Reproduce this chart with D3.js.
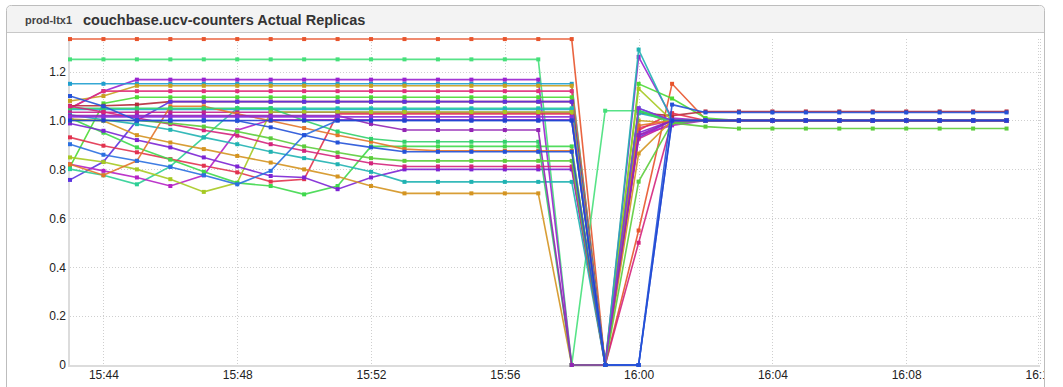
<!DOCTYPE html>
<html>
<head>
<meta charset="utf-8">
<script src="https://cdn.jsdelivr.net/npm/d3@7"></script>
<style>
  body { margin: 0; background: #fff; }
  svg { display: block; font-family: "Liberation Sans", Arial, sans-serif; }
</style>
</head>
<body>
<div id="chart"></div>
<script>
"use strict";

// minutes shown on the x axis (one point per minute)
const times = ["15:43","15:44","15:45","15:46","15:47","15:48","15:49","15:50","15:51","15:52",
    "15:53","15:54","15:55","15:56","15:57","15:58","15:59","16:00","16:01","16:02",
    "16:03","16:04","16:05","16:06","16:07","16:08","16:09","16:10","16:11"];

const yTicks = [0, 0.2, 0.4, 0.6, 0.8, 1.0, 1.2];
const yTickLabels = ["0", "0.2", "0.4", "0.6", "0.8", "1.0", "1.2"];

const s01 = [1.333,1.333,1.333,1.333,1.333,1.333,1.333,1.333,1.333,1.333,1.333,1.333,1.333,1.333,1.333,1.333,0,0.55,1.15,1.005,1,1,1,1,1,1,1,1,1];
const s02 = [1.25,1.25,1.25,1.25,1.25,1.25,1.25,1.25,1.25,1.25,1.25,1.25,1.25,1.25,1.25,0,1.04,1.04,1,1,1,1,1,1,1,1,1,1,1];
const s03 = [1.05,1.12,1.167,1.167,1.167,1.167,1.167,1.167,1.167,1.167,1.167,1.167,1.167,1.167,1.167,0,0,1.26,1.01,1,1,1,1,1,1,1,1,1,1];
const s04 = [1.15,1.15,1.15,1.15,1.15,1.15,1.15,1.15,1.15,1.15,1.15,1.15,1.15,1.15,1.15,1.15,0,1.05,1,1,1,1,1,1,1,1,1,1,1];
const s05 = [1.08,1.10,1.142,1.142,1.142,1.142,1.142,1.142,1.142,1.142,1.142,1.142,1.142,1.142,1.142,1.142,0,1.0,0.99,1,1,1,1,1,1,1,1,1,1];
const s06 = [1.05,1.12,1.12,1.12,1.12,1.12,1.12,1.12,1.12,1.12,1.12,1.12,1.12,1.12,1.12,1.12,0,0.97,1,1,1,1,1,1,1,1,1,1,1];
const s07 = [0.81,1.07,1.095,1.095,1.095,1.095,1.095,1.095,1.095,1.095,1.095,1.095,1.095,1.095,1.095,1.095,0,1.15,1.09,1.01,1,1,1,1,1,1,1,1,1];
const s08 = [1.06,1.06,1.065,1.077,1.077,1.077,1.077,1.077,1.077,1.077,1.077,1.077,1.077,1.077,1.077,1.077,0,1.03,1.02,1.037,1.037,1.037,1.037,1.037,1.037,1.037,1.037,1.037,1.037];
const s09 = [0.757,0.831,1.0,1.077,1.077,1.077,1.077,1.077,1.077,1.077,1.077,1.077,1.077,1.077,1.077,1.077,0,0.93,1,1,1,1,1,1,1,1,1,1,1];
const s10 = [0.801,0.776,0.739,0.812,0.931,1.05,1.05,1.05,1.05,1.05,1.05,1.05,1.05,1.05,1.05,1.05,0,1.04,1,1,1,1,1,1,1,1,1,1,1];
const s11 = [1.045,1.045,1.045,1.045,1.045,1.045,1.045,1.045,1.045,1.045,1.045,1.045,1.045,1.045,1.045,1.045,0,1.03,1,1,1,1,1,1,1,1,1,1,1];
const s12 = [1.034,1.034,1.034,1.034,1.034,1.034,1.034,1.034,1.034,1.034,1.034,1.034,1.034,1.034,1.034,1.034,0,0.925,0.99,1,1,1,1,1,1,1,1,1,1];
const s13 = [0.931,0.897,0.87,0.842,0.815,0.788,0.75,0.76,1.027,1.027,1.027,1.027,1.027,1.027,1.027,1.027,0,0.96,1.03,1,1,1,1,1,1,1,1,1,1];
const s14 = [0.903,0.86,0.835,0.81,0.776,0.739,0.794,0.94,1,1,1,1,1,1,1,1,0,0,1,1,1,1,1,1,1,1,1,1,1];
const s15 = [0.821,0.794,0.767,0.732,0.776,0.96,1.003,1.003,1.003,1.003,1.003,1.003,1.003,1.003,1.003,1.003,0,0.94,0.98,1,1,1,1,1,1,1,1,1,1];
const s16 = [0.849,0.83,0.80,0.76,0.708,0.745,1.035,1.035,1.035,1.035,1.035,1.035,1.035,1.035,1.035,1.035,0,1.13,1,1,1,1,1,1,1,1,1,1,1];
const s17 = [1.01,0.95,0.89,0.84,0.79,0.745,0.732,0.698,0.732,0.894,0.894,0.894,0.894,0.894,0.894,0.894,0,1.04,0.99,1,1,1,1,1,1,1,1,1,1];
const s18 = [0.988,0.958,0.92,0.89,0.849,0.812,0.773,0.767,0.719,0.767,0.80,0.80,0.80,0.80,0.80,0.80,0,0.95,1,1,1,1,1,1,1,1,1,1,1];
const s19 = [1.023,1.003,0.985,0.962,0.931,0.903,0.872,0.846,0.821,0.79,0.749,0.749,0.749,0.749,0.749,0.749,0,1.29,1,1,1,1,1,1,1,1,1,1,1];
const s20 = [1.006,0.999,0.94,0.91,0.883,0.855,0.828,0.80,0.771,0.732,0.702,0.702,0.702,0.702,0.702,0,0,0.865,1,1,1,1,1,1,1,1,1,1,1];
const s21 = [0.821,0.776,0.835,1.058,1.058,1.027,0.999,0.969,0.94,0.913,0.883,0.876,0.876,0.876,0.876,0.876,0,0.98,1,1,1,1,1,1,1,1,1,1,1];
const s22 = [1.05,1.05,1.05,1.05,1.05,1.05,1.05,1.0,0.955,0.925,0.913,0.913,0.913,0.913,0.913,0,0,1.04,1,1,1,1,1,1,1,1,1,1,1];
const s23 = [1.02,1.02,1.02,1.02,1.02,1.02,1.02,1.02,1.02,0.986,0.961,0.961,0.961,0.961,0.961,0,0,0.94,1,1,1,1,1,1,1,1,1,1,1];
const s24 = [1.10,1.058,1.0,1.0,1.0,0.999,0.972,0.94,0.91,0.89,0.872,0.872,0.872,0.872,0.872,0.872,0,0,1.065,1.033,1.033,1.033,1.033,1.033,1.033,1.033,1.033,1.033,1.033];
const s25 = [1.058,1.035,1.01,0.985,0.96,0.938,0.903,0.876,0.851,0.825,0.812,0.812,0.812,0.812,0.812,0.812,0,0.50,1,1,1,1,1,1,1,1,1,1,1];
const s26 = [1.0,1.0,1.0,0.99,0.975,0.955,0.927,0.894,0.869,0.846,0.835,0.835,0.835,0.835,0.835,0.835,0,0.75,0.99,0.975,0.967,0.967,0.967,0.967,0.967,0.967,0.967,0.967,0.967];
const s27 = [1,1,1,1,1,1,1,1,1,1,1,1,1,1,1,1,0,0,1,1,1,1,1,1,1,1,1,1,1];
const s28 = [1.015,1.015,1.015,1.015,1.015,1.015,1.015,1.015,1.015,1.015,1.015,1.015,1.015,1.015,1.015,1.015,0,1.05,1,1,1,1,1,1,1,1,1,1,1];

// drawing order: blues last so they sit on top like in the original
const seriesValues = [s01,s02,s03,s04,s05,s06,s07,s08,s09,s10,s11,s12,s13,
    s15,s16,s17,s18,s19,s20,s21,s22,s23,s25,s26,s28,s14,s27,s24];
const seriesColors = ["#e8542c","#45e07a","#9a22d0","#1f9fcf","#c8a020","#e0307a","#4cd934",
    "#b52a3a","#5b33e0","#2ccf95","#1eb0c8","#c4208e","#e2334f","#b521c4","#a6c922",
    "#3fd84c","#7c24d4","#20b2b2","#d49420","#e3752a","#32d06a","#9324b4","#d4247c",
    "#5ccd3c","#8b30dc","#2a6fe0","#2340d0","#2452d8"];

const width = 1063,
    height = 387;
const plot = { left: 70, right: 1040, top: 39, bottom: 365 };

const parseTime = d3.timeParse("%H:%M");
const dates = times.map(parseTime);

const svg = d3.select("#chart").append("svg")
    .attr("width", width)
    .attr("height", height);

// panel frame with header
svg.append("path")
    .attr("d", `M6.5,${height + 2} V10.5 Q6.5,5.5 11.5,5.5 H1039.5 Q1044.5,5.5 1044.5,10.5 V${height + 2}`)
    .attr("fill", "#fff")
    .attr("stroke", "#bdbdbd");
svg.append("path")
    .attr("d", "M7,32 V10.5 Q7,6 11.5,6 H1039.5 Q1044,6 1044,10.5 V32 Z")
    .attr("fill", "#f3f3f3");
svg.append("line")
    .attr("x1", 7).attr("x2", 1044)
    .attr("y1", 32.5).attr("y2", 32.5)
    .attr("stroke", "#c8c8c8");

svg.append("text")
    .attr("x", 25).attr("y", 24)
    .attr("font-size", 11).attr("font-weight", "bold")
    .attr("fill", "#444")
    .text("prod-ltx1");
svg.append("text")
    .attr("x", 83).attr("y", 25)
    .attr("font-size", 14.5).attr("font-weight", "bold")
    .attr("fill", "#333")
    .text("couchbase.ucv-counters Actual Replicas");

svg.append("clipPath").attr("id", "panel-clip")
    .append("rect")
    .attr("x", 7).attr("y", 33)
    .attr("width", 1037).attr("height", height - 33);

const x = d3.scaleTime()
    .domain([parseTime("15:43"), parseTime("16:12")])
    .range([plot.left, plot.right]);

const y = d3.scaleLinear()
    .domain([0, 1.3333])
    .range([plot.bottom, plot.top]);

const g = svg.append("g").attr("clip-path", "url(#panel-clip)");

// dotted grid
g.append("g")
    .selectAll("line")
    .data(yTicks.slice(1))
    .join("line")
    .attr("x1", plot.left).attr("x2", plot.right)
    .attr("y1", (d) => Math.round(y(d)) + 0.5)
    .attr("y2", (d) => Math.round(y(d)) + 0.5)
    .attr("stroke", "#cfcfcf")
    .attr("stroke-dasharray", "1,2");

const xTicks = x.ticks(d3.timeMinute.every(4));

g.append("g")
    .selectAll("line")
    .data(xTicks)
    .join("line")
    .attr("x1", (d) => Math.round(x(d)) + 0.5)
    .attr("x2", (d) => Math.round(x(d)) + 0.5)
    .attr("y1", plot.top).attr("y2", plot.bottom)
    .attr("stroke", "#cfcfcf")
    .attr("stroke-dasharray", "1,2");

// axes lines
g.append("line")
    .attr("x1", plot.left - 1).attr("x2", plot.left - 1)
    .attr("y1", plot.top).attr("y2", plot.bottom + 1)
    .attr("stroke", "#dcdcdc").attr("stroke-width", 2);
g.append("line")
    .attr("x1", plot.left - 2).attr("x2", plot.right)
    .attr("y1", plot.bottom + 1).attr("y2", plot.bottom + 1)
    .attr("stroke", "#dcdcdc").attr("stroke-width", 2);

const yAxis = g.append("g")
    .attr("transform", `translate(${plot.left - 3},0)`)
    .call(d3.axisLeft(y)
        .tickValues(yTicks)
        .tickSize(0)
        .tickPadding(1)
        .tickFormat((d, i) => yTickLabels[i]));
yAxis.select(".domain").remove();
yAxis.selectAll("text")
    .attr("font-size", 12)
    .attr("font-family", "Liberation Sans, Arial, sans-serif")
    .attr("fill", "#222");

const xAxis = g.append("g")
    .attr("transform", `translate(0,${plot.bottom})`)
    .call(d3.axisBottom(x)
        .tickValues(xTicks)
        .tickSize(0)
        .tickPadding(5)
        .tickFormat(d3.timeFormat("%H:%M")));
xAxis.select(".domain").remove();
xAxis.selectAll("text")
    .attr("font-size", 12)
    .attr("font-family", "Liberation Sans, Arial, sans-serif")
    .attr("fill", "#222");

// right edge of the plot
g.append("line")
    .attr("x1", plot.right - 1.5).attr("x2", plot.right - 1.5)
    .attr("y1", plot.top).attr("y2", plot.bottom)
    .attr("stroke", "#cfcfcf")
    .attr("stroke-dasharray", "1,2");

const line = d3.line()
    .x((d, i) => x(dates[i]))
    .y((d) => y(d));

const seriesG = g.append("g")
    .selectAll("g")
    .data(seriesValues)
    .join("g")
    .attr("fill", (d, i) => seriesColors[i])
    .attr("stroke", (d, i) => seriesColors[i]);

seriesG.append("path")
    .attr("d", (d) => line(d))
    .attr("fill", "none")
    .attr("stroke-width", 1.6)
    .attr("stroke-opacity", 0.9);

seriesG.selectAll("rect")
    .data((d) => d)
    .join("rect")
    .attr("x", (d, i) => x(dates[i]) - 2)
    .attr("y", (d) => y(d) - 2)
    .attr("width", 4)
    .attr("height", 4)
    .attr("stroke", "none");
</script>
</body>
</html>
